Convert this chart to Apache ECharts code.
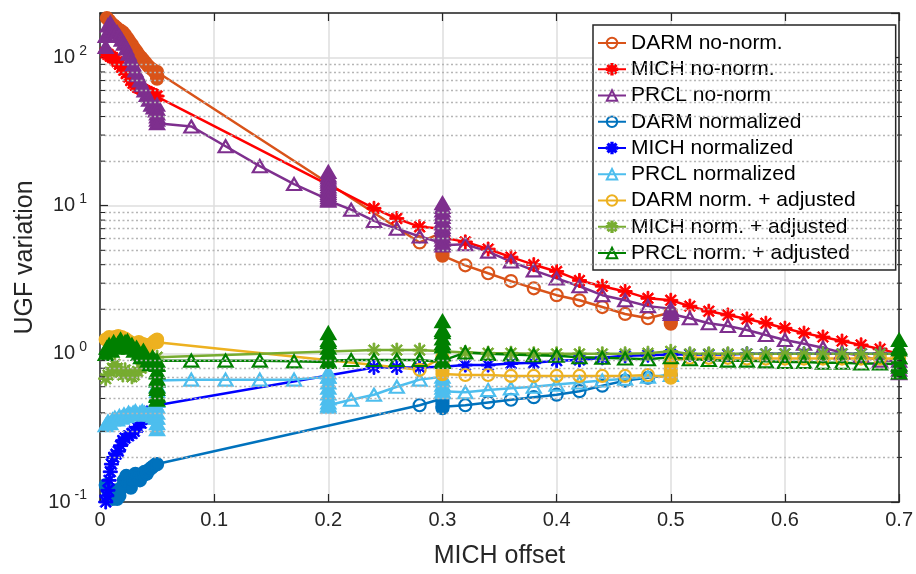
<!DOCTYPE html>
<html><head><meta charset="utf-8">
<script src="https://cdn.jsdelivr.net/npm/echarts@6/dist/echarts.min.js"></script>
<style>html,body{margin:0;padding:0;background:#fff}#c{width:916px;height:574px}</style>
</head><body><div id="c"></div><script>
const rep = (v, n) => Array(n).fill(v);

// shared x positions (MICH offset)
const xMid = [0.32,0.34,0.36,0.38,0.40,0.42,0.44,0.46,0.48];
const xHigh = [0.5167,0.5333,0.55,0.5667,0.5833,0.6,0.6167,0.6333,0.65,0.6667,0.6833];
const xSweep = [0.08,0.11,0.14,0.17];
const xPre = [0.22,0.24,0.26,0.28];
const xLate = [0.24,0.26,0.28];

// DARM no-norm.
const darmNoNormX = [0.006,0.008,0.010,0.012,0.014,0.016,0.018,0.020,0.022,0.024,0.026,0.028,0.030,0.032,0.034,0.036,0.038,0.040,0.042,0.044,0.046,0.048,0.050,0.050,0.050,
  0.28, ...rep(0.3,7), ...xMid, ...rep(0.5,5)];
const darmNoNormY = [185,178,170,165,160,155,152,148,142,135,128,122,115,110,104,100,96,92,88,85,83,80,72,76,80,
  5.65, 6.6,6.2,5.8,5.4,5.0,4.8,4.6, 3.96,3.5,3.1,2.77,2.49,2.3,2.07,1.86,1.74, 1.9,1.82,1.74,1.66,1.6];

// MICH no-norm.
const michNoNormX = [0.005,0.007,0.009,0.011,0.013,0.015,0.017,0.019,0.021,0.023,0.025,0.027,0.029,0.031,0.033,0.035,0.037,0.039,0.041,0.043,0.045,0.047,0.049,0.050,
  ...xLate, ...rep(0.3,3), ...xMid, 0.5, ...xHigh, 0.7];
const michNoNormY = [108,105,102,100,97,94,90,86,82,78,74,70,67,65,63,62,61,60,59,58,57,56,55,55,
  9.6,8.2,7.2, 7.0,6.5,6.1, 5.7,5.1,4.5,4.0,3.6,3.13,2.86,2.64,2.37, 2.3,
  2.1,1.94,1.83,1.72,1.61,1.49,1.38,1.3,1.22,1.15,1.08, 1.0];

// PRCL no-norm
const prclNoNormX = [0.005,0.005,0.007,0.009,0.011,0.013,0.015,0.017,0.019,0.021,0.023,0.025,0.027,0.029,0.031,0.033,0.035,0.037,0.039,0.041,0.043,0.045,0.047,0.049,0.05,0.05,0.05,0.05,0.05,0.05,
  ...xSweep, ...rep(0.2,14), ...xPre, ...rep(0.3,14), ...xMid, ...rep(0.5,3), ...xHigh, ...rep(0.7,4)];
const prclNoNormY = [118,140,165,172,160,152,148,140,132,124,115,106,98,90,82,76,70,65,60,56,52,48,46,44,48,45,42,40,38,36,
  34.3,25.2,18.5,14.0,
  11.0,11.8,12.6,13.5,14.5,15.5,16.9,16.0,15.0,14.0,13.0,12.2,11.4,10.8,
  9.4,7.9,7.0,6.2,
  5.6,6.2,6.9,7.6,8.4,9.3,10.4,9.8,8.8,7.9,7.2,6.5,5.9,5.4,
  5.5,4.9,4.2,3.66,3.23,2.86,2.49,2.3,2.1,
  2.02,1.92,1.86,
  1.74,1.61,1.54,1.45,1.34,1.24,1.17,1.10,1.02,0.97,0.9,
  0.9,0.84,0.78,0.74];

// DARM normalized
const darmNormX = [0.005,0.007,0.009,0.011,0.013,0.015,0.017,0.019,0.021,0.023,0.025,0.027,0.029,0.031,0.033,0.035,0.037,0.039,0.041,0.043,0.045,0.047,0.049,0.050,
  0.28, ...rep(0.3,5), ...xMid, 0.5];
const darmNormY = [0.13,0.12,0.11,0.105,0.12,0.105,0.11,0.125,0.14,0.15,0.135,0.125,0.14,0.155,0.15,0.14,0.15,0.16,0.155,0.165,0.17,0.175,0.18,0.18,
  0.45, 0.5,0.48,0.46,0.44,0.43, 0.45,0.47,0.49,0.51,0.53,0.56,0.61,0.66,0.69, 0.72];

// MICH normalized
const michNormX = [0.005,0.006,0.007,0.008,0.009,0.010,0.012,0.014,0.016,0.018,0.020,0.022,0.025,0.028,0.030,0.033,0.036,0.040,0.045,0.050,
  ...xLate, ...rep(0.3,2), ...xMid, 0.5, ...xHigh, 0.7];
const michNormY = [0.10,0.11,0.12,0.14,0.16,0.18,0.20,0.21,0.22,0.24,0.26,0.27,0.28,0.29,0.30,0.32,0.34,0.37,0.41,0.45,
  0.81,0.81,0.81, 0.82,0.84, 0.84,0.84,0.86,0.87,0.9,0.91,0.94,0.97,0.98, 0.99,
  0.99,0.99,0.99,1.0,1.0,1.0,1.0,1.0,1.0,1.0,1.0, 1.0];

// PRCL normalized
const prclNormX = [0.005,0.007,0.009,0.011,0.013,0.015,0.017,0.019,0.021,0.023,0.025,0.027,0.029,0.031,0.033,0.035,0.037,0.039,0.041,0.043,0.045,0.047,0.049, ...rep(0.05,10),
  ...xSweep, ...rep(0.2,10), ...xPre, ...rep(0.3,6), ...xMid, 0.5];
const prclNormY = [0.33,0.35,0.34,0.36,0.37,0.36,0.38,0.37,0.39,0.38,0.40,0.39,0.40,0.41,0.39,0.40,0.41,0.40,0.39,0.40,0.39,0.38,0.37,
  0.31,0.34,0.37,0.40,0.44,0.48,0.52,0.56,0.61,0.66,
  0.67,0.67,0.67,0.67,
  0.70,0.75,0.70,0.64,0.59,0.54,0.50,0.47,0.45,0.44,
  0.49,0.53,0.60,0.67,
  0.70,0.66,0.62,0.59,0.56,0.55,
  0.55,0.57,0.585,0.6,0.62,0.64,0.66,0.68,0.7, 0.72];

// DARM norm. + adjusted
const darmAdjX = [0.005,0.008,0.010,0.013,0.016,0.019,0.022,0.025,0.028,0.031,0.034,0.037,0.040,0.043,0.046,0.048,0.050,0.050,
  0.28, ...rep(0.3,5), ...xMid, ...rep(0.5,5), ...xHigh, 0.7];
const darmAdjY = [1.25,1.3,1.28,1.3,1.32,1.3,1.27,1.22,1.18,1.15,1.2,1.17,1.15,1.12,1.18,1.22,1.25,1.2,
  0.78, 0.95,0.88,0.82,0.77,0.73,
  0.72,0.72,0.71,0.71,0.71,0.71,0.71,0.71,0.72,
  0.69,0.73,0.78,0.84,0.9,
  0.94,0.94,0.94,0.93,0.93,0.93,0.93,0.93,0.93,0.93,0.93, 0.93];

// MICH norm. + adjusted
const michAdjX = [0.005,0.007,0.009,0.011,0.013,0.015,0.018,0.020,0.022,0.025,0.028,0.030,0.033,0.036,0.040,0.045,0.050,
  ...xLate, ...xMid, 0.5, ...xHigh, 0.7];
const michAdjY = [0.68,0.72,0.75,0.8,0.85,0.8,0.75,0.72,0.78,0.75,0.7,0.72,0.76,0.8,0.85,0.9,0.95,
  1.06,1.06,1.06,
  1.02,1.01,1.01,1.0,1.0,1.0,1.0,1.0,1.01,
  1.04,
  1.0,1.0,1.0,1.0,1.0,1.0,1.0,1.0,1.0,1.0,1.0, 1.0];

// PRCL norm. + adjusted
const prclAdjX = [0.005,0.006,0.008,0.010,0.012,0.014,0.016,0.018,0.020,0.022,0.024,0.026,0.028,0.030,0.032,0.034,0.036,0.038,0.040,0.042,0.044,0.046,0.048, ...rep(0.05,12),
  ...xSweep, ...rep(0.2,8), ...xPre, ...rep(0.3,10), ...xMid, 0.5, ...xHigh, ...rep(0.7,8)];
const prclAdjY = [1.0,1.1,1.15,1.05,1.2,1.1,1.18,1.25,1.15,1.2,1.22,1.1,1.15,1.05,1.1,1.0,0.95,1.05,0.95,0.9,0.85,0.95,0.9,
  0.85,0.75,0.66,0.58,0.52,0.49,0.53,0.6,0.68,0.76,0.84,0.9,
  0.9,0.9,0.9,0.89,
  0.88,0.98,1.1,1.24,1.38,1.2,1.02,0.9,
  0.91,0.91,0.91,0.91,
  0.88,0.99,1.12,1.27,1.45,1.66,1.4,1.18,1.0,0.9,
  1.02,1.0,0.99,0.98,0.97,0.95,0.94,0.93,0.92,
  0.95,
  0.92,0.91,0.9,0.9,0.89,0.88,0.88,0.87,0.87,0.86,0.86,
  0.85,0.95,1.07,1.24,1.1,0.95,0.82,0.75];

const seriesNames = ['DARM no-norm.','MICH no-norm.','PRCL no-norm','DARM normalized','MICH normalized','PRCL normalized','DARM norm. + adjusted','MICH norm. + adjusted','PRCL norm. + adjusted'];
const seriesX = [darmNoNormX, michNoNormX, prclNoNormX, darmNormX, michNormX, prclNormX, darmAdjX, michAdjX, prclAdjX];
const seriesY = [darmNoNormY, michNoNormY, prclNoNormY, darmNormY, michNormY, prclNormY, darmAdjY, michAdjY, prclAdjY];
const seriesColors = ['#D95319','#FF0000','#7E2F8E','#0072BD','#0000FF','#4DBEEE','#EDB120','#77AC30','#008000'];
const seriesShapes = ['circle','star','triangle','circle','star','triangle','circle','star','triangle'];

const yMinorGrid = [0.2,0.3,0.4,0.5,0.6,0.7,0.8,0.9,2,3,4,5,6,7,8,9,20,30,40,50,60,70,80,90];

const STAR = 'path://M10.5,0H13.5V24H10.5Z M0,10.5H24V13.5H0Z M2.3,4.4L4.4,2.3L21.7,19.6L19.6,21.7Z M19.6,2.3L21.7,4.4L4.4,21.7L2.3,19.6Z';
const FONT = '"Liberation Sans", Arial, Helvetica, sans-serif';

const series = seriesNames.map((name, k) => {
  const xs = seriesX[k], ys = seriesY[k], c = seriesColors[k], shape = seriesShapes[k];
  if (xs.length !== ys.length) console.error('length mismatch', name, xs.length, ys.length);
  const data = xs.map((x, i) => {
    const filled = x < 0.055 || xs[i-1] === x || xs[i+1] === x;
    const item = { value: [x, ys[i]] };
    if (filled && shape !== 'star') item.itemStyle = { color: c };
    return item;
  });
  const s = {
    name, type: 'line', data, clip: false, z: 3,
    lineStyle: { color: c, width: 2.5 },
    emphasis: { disabled: true },
  };
  if (shape === 'circle') {
    s.symbol = 'circle'; s.symbolSize = 12;
    s.itemStyle = { color: 'rgba(255,255,255,0)', borderColor: c, borderWidth: 2.2 };
  } else if (shape === 'triangle') {
    s.symbol = 'triangle'; s.symbolSize = [14, 12];
    s.itemStyle = { color: 'rgba(255,255,255,0)', borderColor: c, borderWidth: 2.2 };
  } else {
    s.symbol = STAR; s.symbolSize = 14;
    s.itemStyle = { color: c, borderColor: c, borderWidth: 1 };
  }
  return s;
});

// dotted minor grid lines
series.unshift({
  name: '_grid', type: 'line', data: [], z: 1, silent: true,
  markLine: {
    silent: true, symbol: ['none','none'], animation: false,
    label: { show: false },
    lineStyle: { color: '#b5b5b5', type: [2, 2.5], width: 1.3 },
    data: yMinorGrid.map(v => ({ yAxis: v }))
  }
});

const axisColor = '#262626';
const chart = echarts.init(document.getElementById('c'), null, { renderer: 'canvas' });
const yFmt = v => {
  const l = Math.log10(v), e = Math.round(l);
  if (Math.abs(l - e) > 1e-6) return '';
  return '10{e|' + e + '}';
};
chart.setOption({
  animation: false,
  backgroundColor: '#fff',
  grid: { left: 100, right: 14, top: 13, bottom: 69, containLabel: false },
  legend: {
    data: seriesNames, orient: 'vertical', left: 593, top: 25,
    itemWidth: 28, itemHeight: 13, itemGap: 5.25,
    padding: [7.5, 40, 6.5, 4],
    backgroundColor: '#fff', borderColor: axisColor, borderWidth: 1.5,
    textStyle: { fontSize: 21, color: '#000', fontFamily: FONT, lineHeight: 21 },
    selectedMode: false
  },
  xAxis: [{
    type: 'value', min: 0, max: 0.7, interval: 0.1, position: 'bottom',
    name: 'MICH offset', nameLocation: 'middle', nameGap: 42,
    nameTextStyle: { fontSize: 25, color: axisColor, fontFamily: FONT },
    axisLine: { show: true, onZero: false, lineStyle: { color: axisColor, width: 1.5 } },
    axisTick: { show: true, inside: true, length: 8, lineStyle: { color: axisColor, width: 1.2 } },
    axisLabel: { fontSize: 20, color: axisColor, fontFamily: FONT, margin: 8,
      formatter: v => (Math.abs(v) < 1e-9 ? '0' : (+v.toFixed(1)).toString()) },
    splitLine: { show: true, lineStyle: { color: '#dedede', width: 1.5 } }
  }, {
    type: 'value', min: 0, max: 0.7, interval: 0.1, position: 'top',
    axisLine: { show: true, onZero: false, lineStyle: { color: axisColor, width: 1.5 } },
    axisTick: { show: true, inside: true, length: 8, lineStyle: { color: axisColor, width: 1.2 } },
    axisLabel: { show: false }, splitLine: { show: false }
  }],
  yAxis: [{
    type: 'log', logBase: 10, min: 0.1, max: 200, position: 'left',
    name: 'UGF variation', nameLocation: 'middle', nameGap: 62, nameRotate: 90,
    nameTextStyle: { fontSize: 25, color: axisColor, fontFamily: FONT },
    axisLine: { show: true, onZero: false, lineStyle: { color: axisColor, width: 1.5 } },
    axisTick: { show: true, inside: true, length: 8, lineStyle: { color: axisColor, width: 1.2 } },
    axisLabel: { fontSize: 20, color: axisColor, fontFamily: FONT, margin: 13, formatter: yFmt,
      rich: { e: { fontSize: 14, color: axisColor, fontFamily: FONT, padding: [0, 0, 13, 4] } } },
    splitLine: { show: true, lineStyle: { color: '#dedede', width: 1.5 } },
    minorTick: { show: false }
  }, {
    type: 'log', logBase: 10, min: 0.1, max: 200, position: 'right',
    axisLine: { show: true, onZero: false, lineStyle: { color: axisColor, width: 1.5 } },
    axisTick: { show: true, inside: true, length: 8, lineStyle: { color: axisColor, width: 1.2 } },
    axisLabel: { show: false }, splitLine: { show: false }
  }],
  series
});

// minor ticks on left and right borders
const g = [];
yMinorGrid.forEach(v => {
  const py = chart.convertToPixel({ yAxisIndex: 0 }, v);
  g.push({ type: 'line', shape: { x1: 100, y1: py, x2: 105, y2: py }, style: { stroke: axisColor, lineWidth: 1 }, z: 10, silent: true });
  g.push({ type: 'line', shape: { x1: 897, y1: py, x2: 902, y2: py }, style: { stroke: axisColor, lineWidth: 1 }, z: 10, silent: true });
});
chart.setOption({ graphic: g });
</script></body></html>
